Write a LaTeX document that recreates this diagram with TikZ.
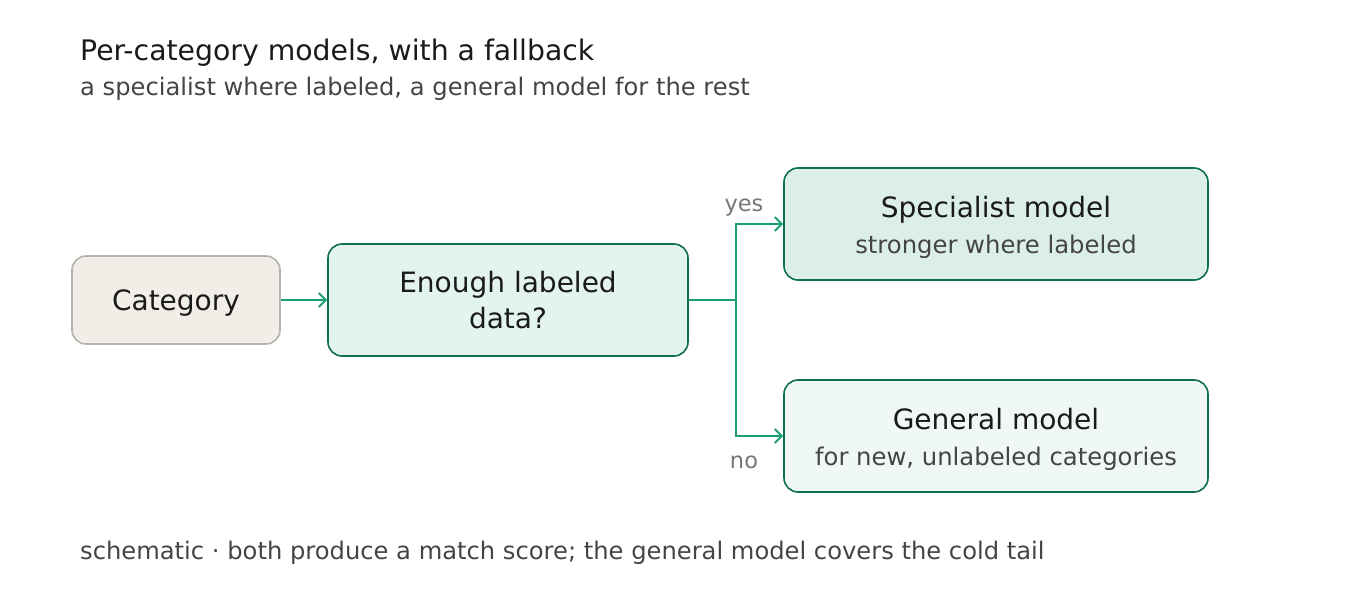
\documentclass[tikz,border=0pt]{standalone}
\usepackage{fontspec}
\setmainfont{DejaVu Sans}
\usetikzlibrary{arrows.meta,positioning}

\definecolor{ink}{HTML}{1A1A1A}
\definecolor{muted}{HTML}{444444}
\definecolor{faint}{HTML}{777777}
\definecolor{catfill}{HTML}{F1EEE8}
\definecolor{catline}{HTML}{B6B4AE}
\definecolor{askfill}{HTML}{E3F4EE}
\definecolor{specfill}{HTML}{DCEFE6}
\definecolor{genfill}{HTML}{EFF8F4}
\definecolor{boxline}{HTML}{0F6E52}
\definecolor{flowgreen}{HTML}{1A9E6F}

\newcommand{\boxfont}{\fontsize{28}{36}\selectfont}
\newcommand{\subfont}{\fontsize{24.3}{36}\selectfont}
\newcommand{\notefont}{\fontsize{24.2}{30}\selectfont}
\newcommand{\tagfont}{\fontsize{22.5}{28}\selectfont}
\newcommand{\topstrut}{\rule{0pt}{27.3pt}}

\begin{document}
\begin{tikzpicture}[x=1pt,y=-1pt,
  >={Straight Barb[length=7pt,width=14pt]},
  catbox/.style={draw=catline,fill=catfill,line width=1.6pt,rounded corners=14pt,
    minimum width=208pt,minimum height=88pt,font=\boxfont,text=ink,
    text height=27pt,text depth=7pt},
  askbox/.style={draw=boxline,fill=askfill,line width=1.6pt,rounded corners=14pt,
    minimum width=360pt,minimum height=112pt,font=\boxfont,text=ink,align=center},
  modelbox/.style={draw=boxline,line width=1.6pt,rounded corners=14pt,
    minimum width=424pt,minimum height=112pt,font=\boxfont,text=ink,align=center}]
\useasboundingbox (0,0) rectangle (1360,592);

% header and footer
\node[anchor=base west,inner sep=0pt,font=\fontsize{28.3}{34}\selectfont,text=ink] (title) at (80,60)
  {Per-category models, with a fallback};
\node[anchor=base west,inner sep=0pt,font=\notefont,text=muted] (subtitle) at (80,95)
  {a specialist where labeled, a general model for the rest};
\node[anchor=base west,inner sep=0pt,font=\notefont,text=muted] (footer) at (80,559)
  {schematic · both produce a match score; the general model covers the cold tail};

% boxes
\node[catbox] (Category) at (176,300) {Category};
\node[askbox] (Enough) at (508,300) {Enough labeled\\data?};
\node[modelbox,fill=specfill] (Specialist) at (996,224)
  {\topstrut Specialist model\\{\subfont\color{muted}stronger where labeled}};
\node[modelbox,fill=genfill] (General) at (996,436)
  {\topstrut General model\\{\subfont\color{muted}for new, unlabeled categories}};
\coordinate (split) at (736,300);

\begin{scope}[draw=flowgreen,line width=2pt]
\draw[->] (Category) -- (Enough);
\draw (Enough.east) -- (split);
\draw[->] (split) |- (Specialist);
\draw[->] (split) |- (General);
\end{scope}

\node[font=\tagfont,text=faint] (yes) at (744,208) {yes};
\node[font=\tagfont,text=faint] (no) at (744,462) {no};
\end{tikzpicture}
\end{document}
